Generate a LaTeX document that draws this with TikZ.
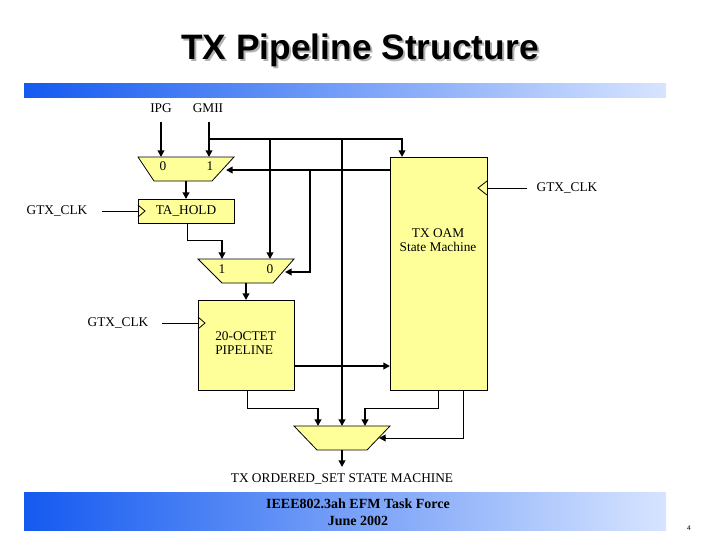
\documentclass[tikz,border=0pt]{standalone}
\usepackage{fontspec}
\setmainfont{Liberation Serif}
\newfontfamily\sansf{Liberation Sans}
\usetikzlibrary{arrows.meta}
\definecolor{ylw}{RGB}{255,255,153}
\definecolor{bdark}{RGB}{20,90,240}
\definecolor{blight}{RGB}{215,228,255}
\begin{document}
\begin{tikzpicture}[x=0.75pt,y=-0.75pt,
  thk/.style={line width=1.5pt},
  thn/.style={line width=0.6pt},
  arr/.style={-{Triangle[length=5pt,width=5pt]}},
  blk/.style={draw,fill=ylw,thn},
  lbl/.style={font=\fontsize{10}{11}\selectfont,inner sep=0pt}]
\useasboundingbox (0,0) rectangle (720,540);
% title
\node[font=\sansf\bfseries\fontsize{26.5}{30}\selectfont,text=gray!60] at (362,52) {TX Pipeline Structure};
\node[font=\sansf\bfseries\fontsize{26.5}{30}\selectfont] (title) at (360,50) {TX Pipeline Structure};
\shade[left color=bdark,right color=blight] (24,83) rectangle (666,97);
\shade[left color=bdark,right color=blight] (24,492) rectangle (666,530);
\node[font=\bfseries\fontsize{10.5}{12.5}\selectfont,align=center,inner sep=0pt] (foot) at (358,512) {IEEE802.3ah EFM Task Force\\June 2002};
\node[font=\sansf\fontsize{5}{6}\selectfont] (pg) at (689,528) {4};
% labels
\node[lbl] (ipg) at (161,108) {IPG};
\node[lbl] (gmii) at (208,108) {GMII};
\node[lbl] (clk1) at (567,188) {GTX\_CLK};
\node[lbl] (clk2) at (57,211) {GTX\_CLK};
\node[lbl] (clk3) at (118,323) {GTX\_CLK};
\node[lbl] (osm) at (342,479) {TX ORDERED\_SET STATE MACHINE};
% blocks
\path[blk] (138,157) -- (234,157) -- (212,181) -- (154,181) -- cycle;
\node[lbl] (m1a) at (163,166) {0};
\node[lbl] (m1b) at (210,166) {1};
\node[blk,minimum width=72pt,minimum height=18pt,anchor=north west,inner sep=0pt] (ta) at (138,199) {};
\node[lbl] at (186,211) {TA\_HOLD};
\path[blk] (198,259) -- (294,259) -- (273,283) -- (222,283) -- cycle;
\node[lbl] (m2a) at (222,269) {1};
\node[lbl] (m2b) at (270,269) {0};
\node[blk,minimum width=72pt,minimum height=67.5pt,anchor=north west,inner sep=0pt] (pipe) at (198,300) {};
\node[lbl,align=left,anchor=west] at (215,343) {20-OCTET\\PIPELINE};
\node[blk,minimum width=72.75pt,minimum height=174.75pt,anchor=north west,inner sep=0pt] (oam) at (390,157) {};
\node[lbl,align=center] at (438,240) {TX OAM\\State Machine};
\path[blk] (294,426) -- (390,426) -- (367,450) -- (317,450) -- cycle;
% clock markers
\draw[thn] (138,205) -- (145,211) -- (138,217);
\draw[thn] (198,317) -- (205,323) -- (198,329);
\draw[thn] (487,181) -- (478,188) -- (487,195);
\draw[thn] (102,211) -- (138,211);
\draw[thn] (162,323) -- (198,323);
\draw[thn] (487,188) -- (527,188);
% connectors
\draw[thk,arr] (161,122) -- (161,157);
\draw[thk,arr] (209,122) -- (209,157);
\draw[thk,arr] (209,139) -- (402,139) -- (402,157);
\draw[thk,arr] (270,139) -- (270,259);
\draw[thk,arr] (342,139) -- (342,426);
\draw[thk,arr] (390,170) -- (226,170);
\draw[thk,arr] (310,170) -- (310,272) -- (285,272);
\draw[thk,arr] (186,181) -- (186,199);
\draw[thn] (187,223) -- (187,240) -- (222,240);
\draw[thk,arr] (222,240) -- (222,259);
\draw[thk,arr] (246,283) -- (246,300);
\draw[thk,arr] (294,366) -- (390,366);
\draw[thn] (247,390) -- (247,408) -- (318,408);
\draw[thk,arr] (318,408) -- (318,426);
\draw[thn] (438,390) -- (438,408) -- (365,408);
\draw[thk,arr] (365,408) -- (365,426);
\draw[thn] (463,390) -- (463,438) -- (385,438);
\draw[thk,arr] (386,438) -- (379,438);
\draw[thk,arr] (342,450) -- (342,467);
\end{tikzpicture}
\end{document}
